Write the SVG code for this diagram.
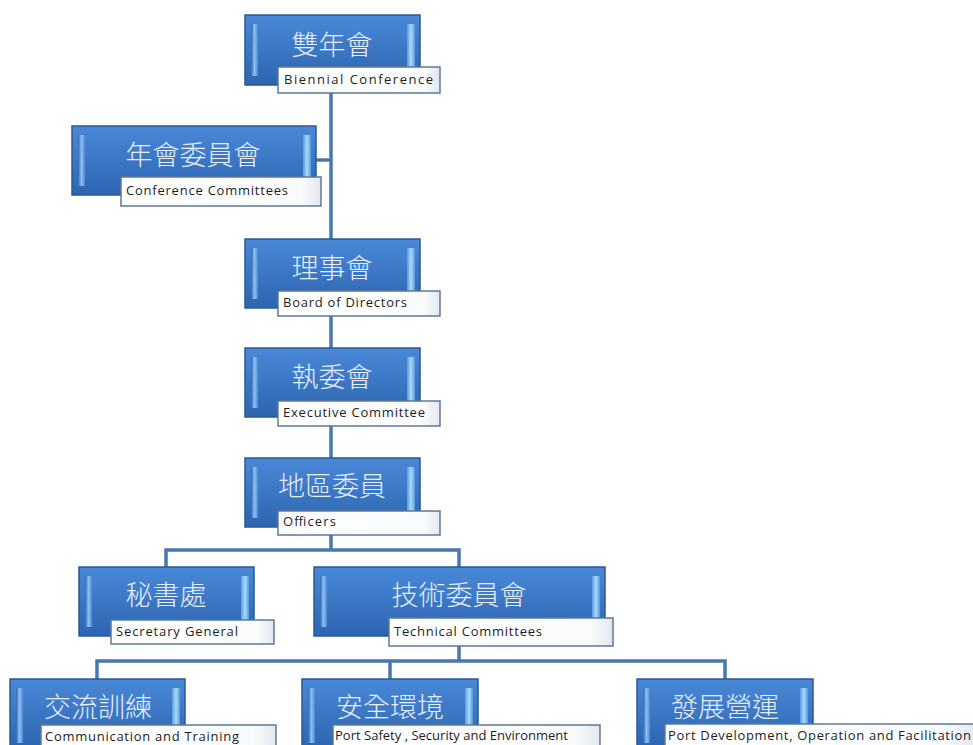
<svg xmlns="http://www.w3.org/2000/svg" width="973" height="745" viewBox="0 0 973 745">
<defs>
<linearGradient id="gBox" x1="0" y1="0" x2="0" y2="1">
<stop offset="0" stop-color="#4a89d8"/>
<stop offset="1" stop-color="#2c64b0"/>
</linearGradient>
<linearGradient id="gL" x1="0" y1="0" x2="1" y2="0">
<stop offset="0" stop-color="#2f66b0"/>
<stop offset="0.5" stop-color="#8cc0f0"/>
<stop offset="1" stop-color="#4a89d8"/>
</linearGradient>
<linearGradient id="gR" x1="0" y1="0" x2="1" y2="0">
<stop offset="0" stop-color="#5a9ae0"/>
<stop offset="0.5" stop-color="#a8dcfa"/>
<stop offset="1" stop-color="#5a98dc"/>
</linearGradient>
<linearGradient id="gLab" x1="0" y1="0" x2="1" y2="0">
<stop offset="0" stop-color="#ffffff"/>
<stop offset="0.9" stop-color="#fafbfc"/>
<stop offset="1" stop-color="#e3e8ee"/>
</linearGradient>
</defs>
<style>
.box{fill:url(#gBox);stroke:#2a5894;stroke-width:1.5}
.bl{fill:url(#gL)}
.br{fill:url(#gR)}
.zh{font-family:"Noto Sans CJK TC","Noto Sans CJK SC",sans-serif;font-size:27px;fill:#e6eef9;text-anchor:middle;font-weight:300}
.lab{fill:url(#gLab);stroke:#5d7898;stroke-width:1.5}
.en{font-family:"Open Sans","Liberation Sans",sans-serif;font-size:13px;fill:#1e1e1e}
.conn{fill:none;stroke:#4a76b2;stroke-width:3.5}
</style>
<rect width="973" height="745" fill="#ffffff"/>
<g id="connectors">
<path class="conn" d="M331 85V458"/>
<path class="conn" d="M316 160H331"/>
<path class="conn" d="M331 527V550M166 567V550H459V567"/>
<path class="conn" d="M459 646V661M97 679V661H725V679M390 661V679"/>
</g>
<g id="n-biennial">
<rect class="box" x="245" y="15" width="175" height="70"/>
<rect class="bl" x="251" y="24" width="7" height="52"/>
<rect class="br" x="407" y="24" width="8" height="52"/>
<text class="zh" x="332" y="55">雙年會</text>
<rect class="lab" x="278" y="67" width="162" height="26"/>
<text class="en" x="284" y="84" textLength="149" lengthAdjust="spacing">Biennial Conference</text>
</g>
<g id="n-confcomm">
<rect class="box" x="72" y="126" width="244" height="69"/>
<rect class="bl" x="78" y="135" width="7" height="51"/>
<rect class="br" x="303" y="135" width="8" height="51"/>
<text class="zh" x="193" y="165">年會委員會</text>
<rect class="lab" x="121" y="177" width="200" height="29"/>
<text class="en" x="126" y="195" textLength="162" lengthAdjust="spacing">Conference Committees</text>
</g>
<g id="n-board">
<rect class="box" x="245" y="239" width="175" height="69"/>
<rect class="bl" x="251" y="248" width="7" height="51"/>
<rect class="br" x="407" y="248" width="8" height="51"/>
<text class="zh" x="332" y="278">理事會</text>
<rect class="lab" x="278" y="291" width="162" height="25"/>
<text class="en" x="283" y="307" textLength="124" lengthAdjust="spacing">Board of Directors</text>
</g>
<g id="n-exec">
<rect class="box" x="245" y="348" width="175" height="69"/>
<rect class="bl" x="251" y="357" width="7" height="51"/>
<rect class="br" x="407" y="357" width="8" height="51"/>
<text class="zh" x="332" y="387">執委會</text>
<rect class="lab" x="278" y="401" width="162" height="25"/>
<text class="en" x="283" y="417" textLength="142" lengthAdjust="spacing">Executive Committee</text>
</g>
<g id="n-officers">
<rect class="box" x="245" y="458" width="175" height="69"/>
<rect class="bl" x="251" y="467" width="7" height="51"/>
<rect class="br" x="407" y="467" width="8" height="51"/>
<text class="zh" x="332" y="496">地區委員</text>
<rect class="lab" x="278" y="511" width="162" height="24"/>
<text class="en" x="283" y="526" textLength="53" lengthAdjust="spacing">Officers</text>
</g>
<g id="n-secretary">
<rect class="box" x="79" y="567" width="175" height="69"/>
<rect class="bl" x="85" y="576" width="7" height="51"/>
<rect class="br" x="241" y="576" width="8" height="51"/>
<text class="zh" x="166" y="605">秘書處</text>
<rect class="lab" x="111" y="620" width="163" height="24"/>
<text class="en" x="116" y="636" textLength="122" lengthAdjust="spacing">Secretary General</text>
</g>
<g id="n-technical">
<rect class="box" x="314" y="567" width="291" height="69"/>
<rect class="bl" x="320" y="576" width="7" height="51"/>
<rect class="br" x="592" y="576" width="8" height="51"/>
<text class="zh" x="459" y="605">技術委員會</text>
<rect class="lab" x="389" y="618" width="224" height="28"/>
<text class="en" x="394" y="636" textLength="148" lengthAdjust="spacing">Technical Committees</text>
</g>
<g id="n-comm">
<rect class="box" x="10" y="679" width="175" height="70"/>
<rect class="bl" x="16" y="688" width="7" height="55"/>
<rect class="br" x="172" y="688" width="8" height="55"/>
<text class="zh" x="98" y="717">交流訓練</text>
<rect class="lab" x="41" y="725" width="235" height="26"/>
<text class="en" x="45" y="741" textLength="194" lengthAdjust="spacing">Communication and Training</text>
</g>
<g id="n-safety">
<rect class="box" x="302" y="679" width="176" height="70"/>
<rect class="bl" x="308" y="688" width="7" height="55"/>
<rect class="br" x="465" y="688" width="8" height="55"/>
<text class="zh" x="390" y="717">安全環境</text>
<rect class="lab" x="333" y="725" width="267" height="26"/>
<text class="en" x="335" y="740" font-size="12" textLength="233" lengthAdjust="spacing">Port Safety , Security and Environment</text>
</g>
<g id="n-development">
<rect class="box" x="637" y="679" width="176" height="70"/>
<rect class="bl" x="643" y="688" width="7" height="55"/>
<rect class="br" x="800" y="688" width="8" height="55"/>
<text class="zh" x="725" y="717">發展營運</text>
<rect class="lab" x="665" y="724" width="310" height="27"/>
<text class="en" x="668" y="740" textLength="303" lengthAdjust="spacing">Port Development, Operation and Facilitation</text>
</g>
</svg>
